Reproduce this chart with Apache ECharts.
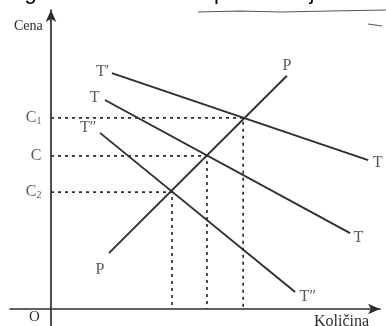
<!DOCTYPE html>
<html><head><meta charset="utf-8">
<script src="https://cdn.jsdelivr.net/npm/echarts@6/dist/echarts.min.js"></script>
<style>html,body{margin:0;padding:0;background:#fff}#c{width:386px;height:326px}</style>
</head><body><div id="c"></div>
<script>
// Curve end points [quantity, price]
const curveP   = [[17.6, 18.7], [71.7, 78.0]];
const curveT1  = [[18.5, 78.9], [96.4, 49.8]];   // T′
const curveT   = [[16.4, 69.9], [90.9, 25.4]];   // T
const curveT2  = [[14.9, 58.9], [74.2, 5.7]];    // T″
// Equilibrium points (quantity, price) for C1, C, C2
const eqQ = [58.4, 47.4, 36.8];
const eqC = [63.9, 51.2, 39.1];
const priceLabels = ['C{s|1}', 'C', 'C{s|2}'];
const startLabels = ['P', 'T′', 'T', 'T″'];
const endLabels   = ['P', 'T', 'T', 'T″'];

const ink = '#2e2e2e';
const serif = '"Liberation Serif","DejaVu Serif",serif';
const chart = echarts.init(document.getElementById('c'));

const curves = [curveP, curveT1, curveT, curveT2];
const series = [];
curves.forEach(c => series.push({
  type: 'line', data: c, symbol: 'none', silent: true,
  lineStyle: {color: ink, width: 1.9}
}));
eqQ.forEach((q, i) => series.push({
  type: 'line', data: [[0, eqC[i]], [q, eqC[i]], [q, 0]], symbol: 'none',
  lineStyle: {color: ink, width: 1.7, type: [3, 4]}
}));
// price tick labels
series.push({
  type: 'scatter', symbolSize: 1, itemStyle: {color: 'rgba(0,0,0,0)'},
  data: eqC.map((c, i) => ({value: [0, c], label: {formatter: priceLabels[i]}})),
  label: {show: true, position: 'left', distance: 9, color: ink, fontFamily: serif, fontSize: 16,
    rich: {s: {fontSize: 10, fontFamily: serif, color: ink, padding: [6, 0, 0, 0]}}}
});
// curve labels
const startPos = [
  {position: 'bottom', offset: [-9, 3]},
  {position: 'left', distance: 2, offset: [0, -1]},
  {position: 'left', distance: 5, offset: [0, -2]},
  {position: 'left', distance: 3, offset: [0, -5]}
];
const endPos = [
  {position: 'top', distance: 1, offset: [0, 0]},
  {position: 'right', distance: 4, offset: [0, 3]},
  {position: 'right', distance: 3, offset: [0, 5]},
  {position: 'right', distance: 4, offset: [0, 5]}
];
const labelData = [];
curves.forEach((c, i) => {
  labelData.push({value: c[0], label: Object.assign({formatter: startLabels[i]}, startPos[i])});
  labelData.push({value: c[1], label: Object.assign({formatter: endLabels[i]}, endPos[i])});
});
series.push({
  type: 'scatter', symbolSize: 1, itemStyle: {color: 'rgba(0,0,0,0)'},
  data: labelData,
  label: {show: true, color: ink, fontFamily: serif, fontSize: 16}
});

chart.setOption({
  animation: false,
  grid: {left: 10, right: 6, top: 10, bottom: 0},
  xAxis: {type: 'value', min: -12.46, max: 100,
    axisLine: {onZero: true, symbol: ['none', 'arrow'], symbolSize: [8, 12], lineStyle: {color: ink, width: 1.7}},
    axisTick: {show: false}, axisLabel: {show: false}, splitLine: {show: false}},
  yAxis: {type: 'value', min: -5.69, max: 100,
    axisLine: {onZero: true, symbol: ['none', 'arrow'], symbolSize: [8, 12], lineStyle: {color: ink, width: 1.7}},
    axisTick: {show: false}, axisLabel: {show: false}, splitLine: {show: false}},
  graphic: [
    {type: 'text', left: 0, top: -18, style: {text: 'nagiba krive troškova proizvodnje.', font: '22px "Liberation Sans", Arial, sans-serif', fill: '#000'}},
    {type: 'polyline', shape: {points: [[198, 12], [240, 11], [280, 12], [330, 11], [386, 10]]}, style: {stroke: '#555', lineWidth: 1.2, fill: null}},
    {type: 'line', shape: {x1: 368, y1: 24, x2: 382, y2: 26}, style: {stroke: '#555', lineWidth: 1.2}},
    {type: 'text', left: 14, top: 19, style: {text: 'Cena', font: '14px "Liberation Serif", serif', fill: ink}},
    {type: 'text', left: 29, top: 310, style: {text: 'O', font: '15px "Liberation Serif", serif', fill: ink}},
    {type: 'text', left: 314, top: 314, style: {text: 'Količina', font: '16px "Liberation Serif", serif', fill: ink}}
  ],
  series: series
});
</script></body></html>
